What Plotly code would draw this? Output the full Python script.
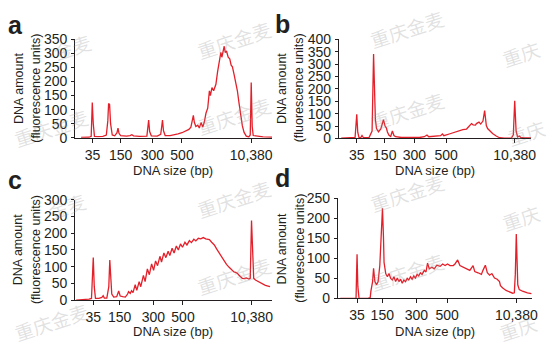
import plotly.graph_objects as go

W, H = 549, 351
FONT = "Liberation Sans, Arial, Helvetica, sans-serif"
RED = "#e3202a"
INK = "#231f20"

tick_text = ["35", "150", "300", "500", "10,380"]

# ---------------- data (migration position, fluorescence units) ----------------
a_time = [-12, -4, -1.8, -0.7, 0.3, 1.5, 5, 10, 13.5, 15, 15.8, 16.8, 17.8, 19.5, 22, 24.3, 25.3, 26.3, 28, 34,
          37.5, 39.3, 41, 47, 54.5, 55.5, 56.3, 57.3, 59, 65, 68.5, 69.5, 70.3, 71.3, 73, 78, 82, 86, 90, 94,
          97, 99, 100.5, 101.5, 102.5, 104, 106, 107.5, 109.3, 111, 112.5, 114.3, 116, 117.7, 118.7, 120.3, 122,
          124.3, 126, 127.7, 129.3, 130.3, 131.7, 132.7, 133.7, 135, 136.7, 138.3, 139.7, 141, 142.7, 144.3, 146,
          147.7, 149.3, 151, 152.7, 155, 157.5, 159, 160, 161, 162, 164, 166, 172, 181]
a_fu = [1, 2, 5, 125, 50, 5, 4, 5, 10, 60, 122, 118, 50, 10, 7, 18, 34, 16, 8, 6,
        8, 11, 7, 5, 6, 30, 63, 22, 7, 6, 12, 40, 63, 25, 8, 8, 10, 14, 18, 24,
        30, 38, 60, 80, 55, 40, 45, 35, 54, 38, 55, 88, 105, 167, 150, 178, 167,
        190, 235, 269, 303, 286, 314, 325, 303, 308, 286, 280, 258, 252, 224, 201, 167,
        122, 77, 43, 20, 6, 3, 10, 196, 40, 8, 7, 4, 3, 2]
a_ticks = [-0.5, 28, 60, 90, 160]

b_time = [-15, -3, -1, 0.7, 1.7, 3, 4.8, 6, 7.3, 13, 16.2, 17.7, 18.7, 19.5, 20.7, 22.7, 25, 26.7, 27.7, 29.3,
          30.7, 31.7, 33.3, 35, 36.7, 38.3, 40, 46, 55, 64, 69, 71.7, 73.5, 80, 85.5, 87.3, 88.8, 95, 100, 105,
          108, 111.7, 114, 116.7, 118.3, 120.7, 121.7, 124.3, 126, 128.3, 130, 131.7, 133, 135, 138, 141.7, 145,
          150, 157, 159, 160.4, 161.8, 163.3, 165, 166.5, 170, 177]
b_fu = [1, 1, 4, 97, 25, 3, 4, 12, 4, 3, 30, 340, 150, 77, 40, 27, 38, 62, 76, 50,
        42, 26, 13, 8, 30, 12, 7, 4, 3, 4, 7, 14, 7, 8, 11, 18, 11, 19, 26, 32,
        36, 38, 50, 60, 55, 54, 60, 66, 58, 70, 112, 52, 40, 32, 20, 10, 3,
        1, 1, 15, 152, 30, 6, 10, 4, 2, 2]
b_ticks = [0.7, 29, 59, 91, 160.4]

c_time = [-17, -9, -4, -1.5, -0.5, 0.3, 1.3, 2.5, 6, 9, 10.3, 11.5, 14, 16, 17, 18, 19, 21, 24, 26, 27.5, 30,
          32.7, 35, 36, 37.7, 39, 40.5, 42.7, 44.3, 46.7, 48.3, 51, 52.7, 55, 57, 59.3, 61.3, 63.3, 65.3, 67.7,
          69.3, 71.7, 73.7, 76, 77.7, 80, 82, 84.3, 86.3, 88.5, 90.5, 93, 95, 97.5, 99.5, 102, 104, 106.5, 109,
          111.5, 114, 117.7, 120, 122.7, 125, 127.7, 130, 132.7, 135, 137.7, 141, 142.5, 144.3, 146, 147.7, 151,
          153, 155, 157.7, 159, 160.3, 161.5, 162.5, 164.3, 169.3, 174.3, 179]
c_fu = [0, 1, 3, 5, 60, 127, 40, 5, 5, 8, 13, 6, 6, 40, 120, 50, 18, 9, 10, 27, 12, 10,
        9, 18, 25, 20, 28, 22, 46, 29, 55, 40, 74, 55, 93, 76, 108, 89, 117, 103, 131,
        114, 141, 127, 146, 133, 155, 141, 162, 150, 168, 158, 173, 165, 178, 172, 182, 177, 185, 183,
        187, 183, 181, 173, 165, 153, 141, 128, 117, 107, 98, 89, 84, 83, 80, 74, 65,
        64, 66, 63, 65, 238, 120, 65, 60, 51, 44, 40]
c_ticks = [0.3, 27, 61, 91, 160.5]

d_time = [-16, -4, 0, 0.5, 1, 1.8, 3, 12, 14.3, 15, 16.7, 17.7, 19, 20.7, 22.3, 24, 25.7, 26.7, 27.7, 28.3,
          30, 31.7, 33.3, 35, 36.7, 38.3, 40, 41.7, 43.3, 45, 46.7, 48.3, 50, 51.7, 53.3, 55, 56.7, 58.3, 60,
          61.7, 63.3, 65, 66.7, 69, 70.7, 72.3, 74, 76.7, 79, 81.7, 85, 87.5, 90, 92.5, 95, 98.3, 100, 102.7,
          105, 108.3, 111.7, 115, 118.3, 120, 123.3, 126.7, 128.3, 130.7, 132.7, 135, 137.3, 140, 142.7, 145,
          146, 148.3, 151.7, 155, 158.3, 160, 161, 162, 162.8, 163.5, 165, 168.3, 173.3, 177.3]
d_fu = [0, 0, 1, 60, 110, 30, 0, 0, 2, 18, 42, 75, 42, 34, 42, 82, 153, 225, 153, 90,
        62, 54, 62, 50, 46, 54, 42, 51, 42, 48, 38, 46, 42, 50, 46, 54, 48, 56, 51,
        60, 56, 64, 60, 70, 66, 88, 74, 78, 74, 83, 80, 86, 82, 86, 82, 82, 86, 96,
        82, 78, 74, 70, 82, 67, 64, 60, 70, 83, 64, 58, 62, 51, 48, 42,
        32, 26, 20, 17, 13, 14, 60, 161, 70, 34, 22, 18, 14, 12]
d_ticks = [1, 26.5, 61, 92, 162]

# ---------------- layout geometry (pixels) ----------------
panels = [
    (a_time, a_fu, a_ticks, 76, 275, 32.7, 136.0, [-18, 181], [0, 350]),
    (b_time, b_fu, b_ticks, 342.7, 537, 32.7, 136.7, [-17.3, 177], [0, 400]),
    (c_time, c_fu, c_ticks, 76, 275, 201.0, 306.0, [-18, 181], [0, 300]),
    (d_time, d_fu, d_ticks, 341.7, 538, 199.3, 304.3, [-18.3, 178], [0, 250]),
]

fig = go.Figure()
layout = dict(
    width=W, height=H, margin=dict(l=0, r=0, t=0, b=0),
    paper_bgcolor="white", plot_bgcolor="white", showlegend=False,
    font=dict(family=FONT, color=INK),
)

for i, (t, fu, ticks, x0, x1, yt, yb, xr, yr) in enumerate(panels):
    n = "" if i == 0 else str(i + 1)
    fig.add_trace(go.Scatter(x=t, y=fu, mode="lines", line=dict(color=RED, width=1.3),
                             xaxis="x" + n, yaxis="y" + n, hoverinfo="skip"))
    layout["xaxis" + n] = dict(
        domain=[x0 / W, x1 / W], range=xr, anchor="y" + n,
        tickmode="array", tickvals=ticks, ticktext=tick_text,
        showline=True, linecolor=INK, linewidth=1, ticks="outside", ticklen=4,
        tickcolor=INK, tickwidth=1, showgrid=False, zeroline=False,
        tickfont=dict(size=14, family=FONT, color=INK), ticklabelstandoff=0,
    )
    layout["yaxis" + n] = dict(
        domain=[1 - yb / H, 1 - yt / H], range=yr, anchor="x" + n,
        tick0=0, dtick=50, showline=True, linecolor=INK, linewidth=1,
        ticks="outside", ticklen=3, tickcolor=INK, tickwidth=1,
        showgrid=False, zeroline=False,
        tickfont=dict(size=14, family=FONT, color=INK), ticklabelstandoff=1,
    )

fig.update_layout(**layout)

def px(x, y):
    return x / W, 1 - y / H

annos = []
# watermarks (drawn first, light)
WM = "rgba(150,150,150,0.28)"
for (cx, cy, txt) in [(237, 33, "重庆金麦"), (237, 113, "重庆金麦"), (52, 125, "重庆金麦"), (73, 40, "金麦"),
                      (412, 22, "重庆金麦"), (412, 107, "重庆金麦"), (527, 48, "重庆"), (532, 130, "重庆"),
                      (68, 207, "金麦"), (237, 200, "重庆金麦"), (237, 280, "重庆金麦"), (52, 328, "重庆金麦"),
                      (412, 193, "重庆金麦"), (527, 220, "重庆"), (412, 276, "重庆金麦"), (524, 335, "重庆")]:
    ax, ay = px(cx, cy)
    annos.append(dict(text=txt, x=ax, y=ay, xref="paper", yref="paper", textangle=-18,
                      showarrow=False, xanchor="center", yanchor="middle",
                      font=dict(size=19, family="Noto Sans CJK SC", color=WM)))
# panel letters
for letter, (lx, ly) in zip("abcd", [(16, 18), (285.5, 17), (15, 180), (285.5, 178)]):
    ax, ay = px(lx, ly)
    annos.append(dict(text="<b>%s</b>" % letter, x=ax, y=ay, xref="paper", yref="paper",
                      showarrow=False, xanchor="center", yanchor="middle",
                      font=dict(size=25, family=FONT, color=INK)))
# axis titles
for (cx, cy) in [(175, 170), (440, 170), (175, 339), (440, 339)]:
    ax, ay = px(cx, cy)
    annos.append(dict(text="DNA size (bp)", x=ax, y=ay, xref="paper", yref="paper",
                      showarrow=False, xanchor="center", yanchor="middle",
                      font=dict(size=13, family=FONT, color=INK)))
for (c1, c2, cy) in [(19, 37, 84), (285, 302.5, 84), (19, 37, 253), (285, 302.5, 252)]:
    for cx, txt in [(c1, "DNA amount"), (c2, "(fluorescence units)")]:
        ax, ay = px(cx, cy)
        annos.append(dict(text=txt, x=ax, y=ay, xref="paper", yref="paper", textangle=-90,
                          showarrow=False, xanchor="center", yanchor="middle",
                          font=dict(size=12.5, family=FONT, color=INK)))
fig.update_layout(annotations=annos)

fig.write_html("out.html")
